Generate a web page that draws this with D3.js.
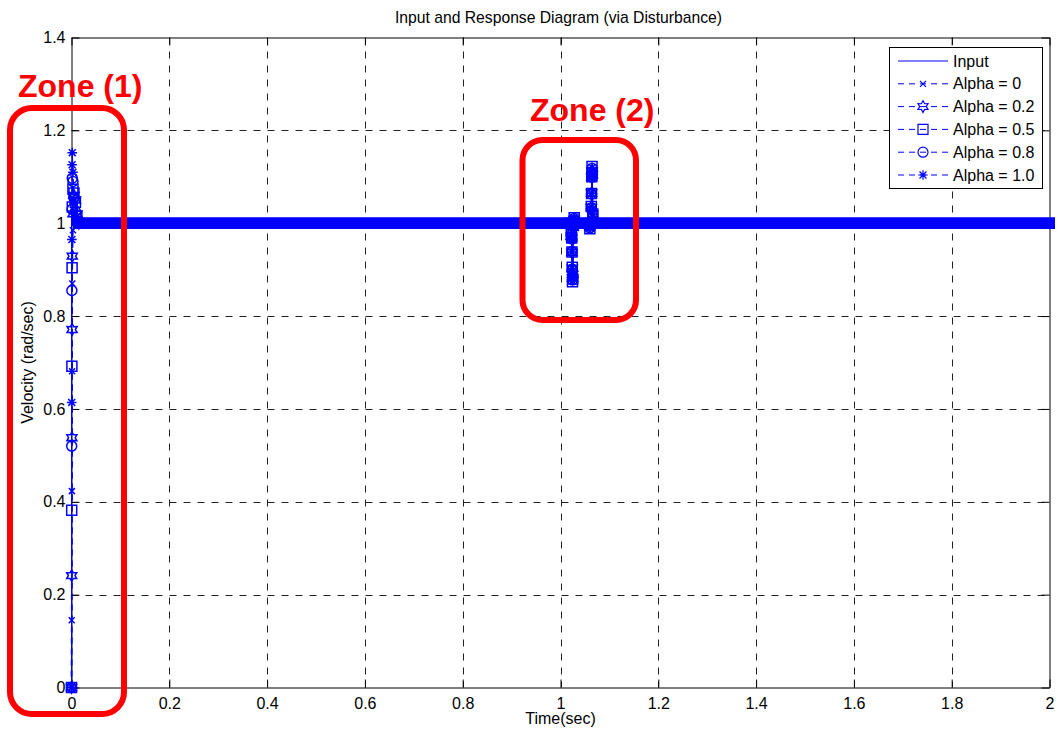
<!DOCTYPE html>
<html><head><meta charset="utf-8">
<script src="https://cdn.jsdelivr.net/npm/d3@7"></script>
<style>body{margin:0;background:#fff}svg{display:block;font-family:"Liberation Sans",Arial,sans-serif}</style>
</head><body><svg id="c" width="1061" height="733"></svg>
<script>
// ---------- data ----------
const xTicks = [0, 0.2, 0.4, 0.6, 0.8, 1, 1.2, 1.4, 1.6, 1.8, 2];
const xTickLabels = ["0", "0.2", "0.4", "0.6", "0.8", "1", "1.2", "1.4", "1.6", "1.8", "2"];
const yTicks = [0, 0.2, 0.4, 0.6, 0.8, 1, 1.2, 1.4];
const yTickLabels = ["0", "0.2", "0.4", "0.6", "0.8", "1", "1.2", "1.4"];

const inputTime = [0, 0, 2];
const inputValue = [0, 1, 1];

const seriesNames = ["Alpha = 0", "Alpha = 0.2", "Alpha = 0.5", "Alpha = 0.8", "Alpha = 1.0"];
const seriesMarkers = ["x", "hexagram", "square", "circle", "asterisk"];

const riseTime  = [0, 0.0004, 0.0008, 0.0012, 0.0016, 0.003, 0.005, 0.008, 0.011, 0.015];
const dipTime   = [1.020, 1.022, 1.023, 1.0235, 1.024, 1.0245, 1.025, 1.026, 1.028];
const spikeTime = [1.060, 1.062, 1.063, 1.0635, 1.064, 1.0645, 1.065, 1.066, 1.068];
const endTime = 2;
const steadyValue = 1;

const riseAlpha0  = [0, 0.145, 0.423, 0.681, 0.870, 0.985, 1.035, 1.040, 1.015, 1.000];
const riseAlpha02 = [0, 0.241, 0.538, 0.771, 0.929, 1.020, 1.060, 1.050, 1.020, 1.000];
const riseAlpha05 = [0, 0.382, 0.692, 0.904, 1.035, 1.073, 1.065, 1.045, 1.015, 1.000];
const riseAlpha08 = [0, 0.520, 0.855, 1.030, 1.097, 1.090, 1.055, 1.025, 1.005, 1.000];
const riseAlpha10 = [0, 0.614, 0.965, 1.126, 1.152, 1.110, 1.050, 1.020, 1.000, 1.000];

const dipAlpha0  = [1.000, 0.975, 0.965, 0.938, 0.905, 0.890, 0.895, 0.990, 1.005];
const dipAlpha02 = [1.000, 0.972, 0.968, 0.937, 0.903, 0.882, 0.890, 0.992, 1.008];
const dipAlpha05 = [1.000, 0.975, 0.968, 0.938, 0.905, 0.874, 0.880, 0.995, 1.012];
const dipAlpha08 = [1.000, 0.974, 0.966, 0.939, 0.900, 0.878, 0.885, 0.993, 1.010];
const dipAlpha10 = [1.000, 0.973, 0.967, 0.938, 0.902, 0.876, 0.884, 0.994, 1.012];

const spikeAlpha0  = [0.995, 1.005, 1.030, 1.064, 1.098, 1.105, 1.100, 1.020, 1.000];
const spikeAlpha02 = [0.992, 1.003, 1.034, 1.065, 1.100, 1.112, 1.104, 1.020, 1.000];
const spikeAlpha05 = [0.988, 1.000, 1.036, 1.064, 1.100, 1.122, 1.108, 1.020, 1.000];
const spikeAlpha08 = [0.990, 1.002, 1.033, 1.063, 1.099, 1.118, 1.106, 1.020, 1.000];
const spikeAlpha10 = [0.990, 1.000, 1.035, 1.064, 1.098, 1.120, 1.110, 1.020, 1.000];

const riseValues  = [riseAlpha0, riseAlpha02, riseAlpha05, riseAlpha08, riseAlpha10];
const dipValues   = [dipAlpha0, dipAlpha02, dipAlpha05, dipAlpha08, dipAlpha10];
const spikeValues = [spikeAlpha0, spikeAlpha02, spikeAlpha05, spikeAlpha08, spikeAlpha10];

const chartTitle = "Input and Response Diagram (via Disturbance)";
const xLabel = "Time(sec)";
const yLabel = "Velocity (rad/sec)";
const inputName = "Input";
const zoneLabels = ["Zone (1)", "Zone (2)"];

// ---------- drawing ----------
const BLUE = "#0000ff", RED = "#ff0000";
const svg = d3.select("#c");
const x = d3.scaleLinear().domain([0, 2]).range([71.5, 1049.5]);
const y = d3.scaleLinear().domain([0, 1.4]).range([687.5, 37.5]);
const [x0, x1] = x.range(), [y0, y1] = y.range();

// grid
const grid = svg.append("g").attr("stroke", "#222").attr("stroke-width", 1).attr("stroke-dasharray", "7,7");
xTicks.slice(1, -1).forEach(t => grid.append("line").attr("x1", Math.round(x(t)) + 0.5).attr("x2", Math.round(x(t)) + 0.5).attr("y1", y1).attr("y2", y0));
yTicks.slice(1, -1).forEach(t => grid.append("line").attr("y1", Math.round(y(t)) + 0.5).attr("y2", Math.round(y(t)) + 0.5).attr("x1", x0).attr("x2", x1));

// axes with inner ticks
const tickLen = 8;
const axB = svg.append("g").attr("transform", `translate(0,${y0})`).call(d3.axisBottom(x).tickValues(xTicks).tickFormat((d, i) => xTickLabels[i]).tickSizeInner(-tickLen).tickSizeOuter(0).tickPadding(10));
const axT = svg.append("g").attr("transform", `translate(0,${y1})`).call(d3.axisTop(x).tickValues(xTicks).tickFormat("").tickSizeInner(-tickLen).tickSizeOuter(0));
const axL = svg.append("g").attr("transform", `translate(${x0},0)`).call(d3.axisLeft(y).tickValues(yTicks).tickFormat((d, i) => yTickLabels[i]).tickSizeInner(-tickLen).tickSizeOuter(0).tickPadding(6));
const axR = svg.append("g").attr("transform", `translate(${x1},0)`).call(d3.axisRight(y).tickValues(yTicks).tickFormat("").tickSizeInner(-tickLen).tickSizeOuter(0));
[axB, axT, axL, axR].forEach(a => {
  a.selectAll(".domain").attr("stroke", "#000");
  a.selectAll(".tick line").attr("stroke", "#000");
  a.selectAll("text").attr("font-size", 16).attr("fill", "#000").attr("font-family", "Liberation Sans, Arial, sans-serif");
});

// marker shapes
function markerPath(type) {
  const p = d3.path();
  if (type === "x") { const r = 3; p.moveTo(-r, -r); p.lineTo(r, r); p.moveTo(-r, r); p.lineTo(r, -r); }
  else if (type === "square") { const r = 5; p.rect(-r, -r, 2 * r, 2 * r); }
  else if (type === "circle") { p.arc(0, 0, 5, 0, 2 * Math.PI); p.closePath(); }
  else if (type === "asterisk") {
    const r = 4.8, d = r * 0.72;
    p.moveTo(0, -r); p.lineTo(0, r); p.moveTo(-r, 0); p.lineTo(r, 0);
    p.moveTo(-d, -d); p.lineTo(d, d); p.moveTo(-d, d); p.lineTo(d, -d);
  } else if (type === "hexagram") {
    const ro = 5.8, ri = 3.3;
    for (let k = 0; k < 12; k++) {
      const a = -Math.PI / 2 + k * Math.PI / 6, r = k % 2 ? ri : ro;
      const px = r * Math.cos(a), py = r * Math.sin(a);
      k ? p.lineTo(px, py) : p.moveTo(px, py);
    }
    p.closePath();
  }
  return p.toString();
}

const line = d3.line().x(d => x(d[0])).y(d => y(d[1]));
const plot = svg.append("g");

// input
plot.append("path").datum(inputTime.map((t, i) => [t, inputValue[i]]))
  .attr("d", line).attr("fill", "none").attr("stroke", BLUE).attr("stroke-width", 1);

// series
const seriesPts = seriesNames.map((n, s) => {
  const pts = [];
  riseTime.forEach((t, i) => pts.push([t, riseValues[s][i]]));
  dipTime.forEach((t, i) => pts.push([t, dipValues[s][i]]));
  spikeTime.forEach((t, i) => pts.push([t, spikeValues[s][i]]));
  pts.push([endTime, steadyValue]);
  return pts;
});

seriesPts.forEach(pts => {
  plot.append("path").datum(pts).attr("d", line).attr("fill", "none")
    .attr("stroke", BLUE).attr("stroke-width", 1.2).attr("stroke-dasharray", "6,5");
});
// dense markers along the steady state form a thick band
seriesPts.forEach((pts, s) => {
  const startT = riseTime[riseTime.length - 1];
  plot.append("path").datum([[startT, steadyValue], [endTime, steadyValue]]).attr("d", line)
    .attr("fill", "none").attr("stroke", BLUE).attr("stroke-width", 11).attr("stroke-linecap", "square");
});
seriesPts.forEach((pts, s) => {
  const mp = markerPath(seriesMarkers[s]);
  plot.append("g").selectAll("path").data(pts.slice(0, -1)).join("path")
    .attr("transform", d => `translate(${x(d[0])},${y(d[1])})`)
    .attr("d", mp).attr("fill", "none").attr("stroke", BLUE).attr("stroke-width", 1.5);
});

// title and axis labels
svg.append("text").attr("x", (x0 + x1) / 2 - 2).attr("y", 23).attr("text-anchor", "middle")
  .attr("font-size", 15.7).text(chartTitle);
svg.append("text").attr("x", (x0 + x1) / 2).attr("y", 724).attr("text-anchor", "middle")
  .attr("font-size", 16).text(xLabel);
svg.append("text").attr("transform", `translate(33,${(y0 + y1) / 2}) rotate(-90)`).attr("text-anchor", "middle")
  .attr("font-size", 16).text(yLabel);

// legend
const lg = svg.append("g");
lg.append("rect").attr("x", 889.5).attr("y", 47.5).attr("width", 153).attr("height", 141)
  .attr("fill", "#fff").attr("stroke", "#000").attr("stroke-width", 1);
const legendNames = [inputName].concat(seriesNames);
legendNames.forEach((n, i) => {
  const ly = 61 + i * 22.8;
  lg.append("line").attr("x1", 898).attr("x2", 948).attr("y1", ly).attr("y2", ly)
    .attr("stroke", BLUE).attr("stroke-width", 1).attr("stroke-dasharray", i ? "6,5" : null);
  if (i) lg.append("path").attr("transform", `translate(923,${ly})`).attr("d", markerPath(seriesMarkers[i - 1]))
    .attr("fill", "none").attr("stroke", BLUE).attr("stroke-width", 1.2);
  lg.append("text").attr("x", 953).attr("y", ly).attr("dy", "0.35em").attr("font-size", 16).text(n);
});

// zone annotations
const ann = svg.append("g");
ann.append("rect").attr("x", 10).attr("y", 108).attr("width", 114).attr("height", 606).attr("rx", 22)
  .attr("fill", "none").attr("stroke", RED).attr("stroke-width", 6);
ann.append("rect").attr("x", 522.5).attr("y", 140).attr("width", 113.5).attr("height", 180).attr("rx", 20)
  .attr("fill", "none").attr("stroke", RED).attr("stroke-width", 6);
ann.append("text").attr("x", 18).attr("y", 97).attr("font-size", 32).attr("font-weight", "bold").attr("fill", RED).text(zoneLabels[0]);
ann.append("text").attr("x", 530).attr("y", 121).attr("font-size", 32).attr("font-weight", "bold").attr("fill", RED).text(zoneLabels[1]);
</script></body></html>
